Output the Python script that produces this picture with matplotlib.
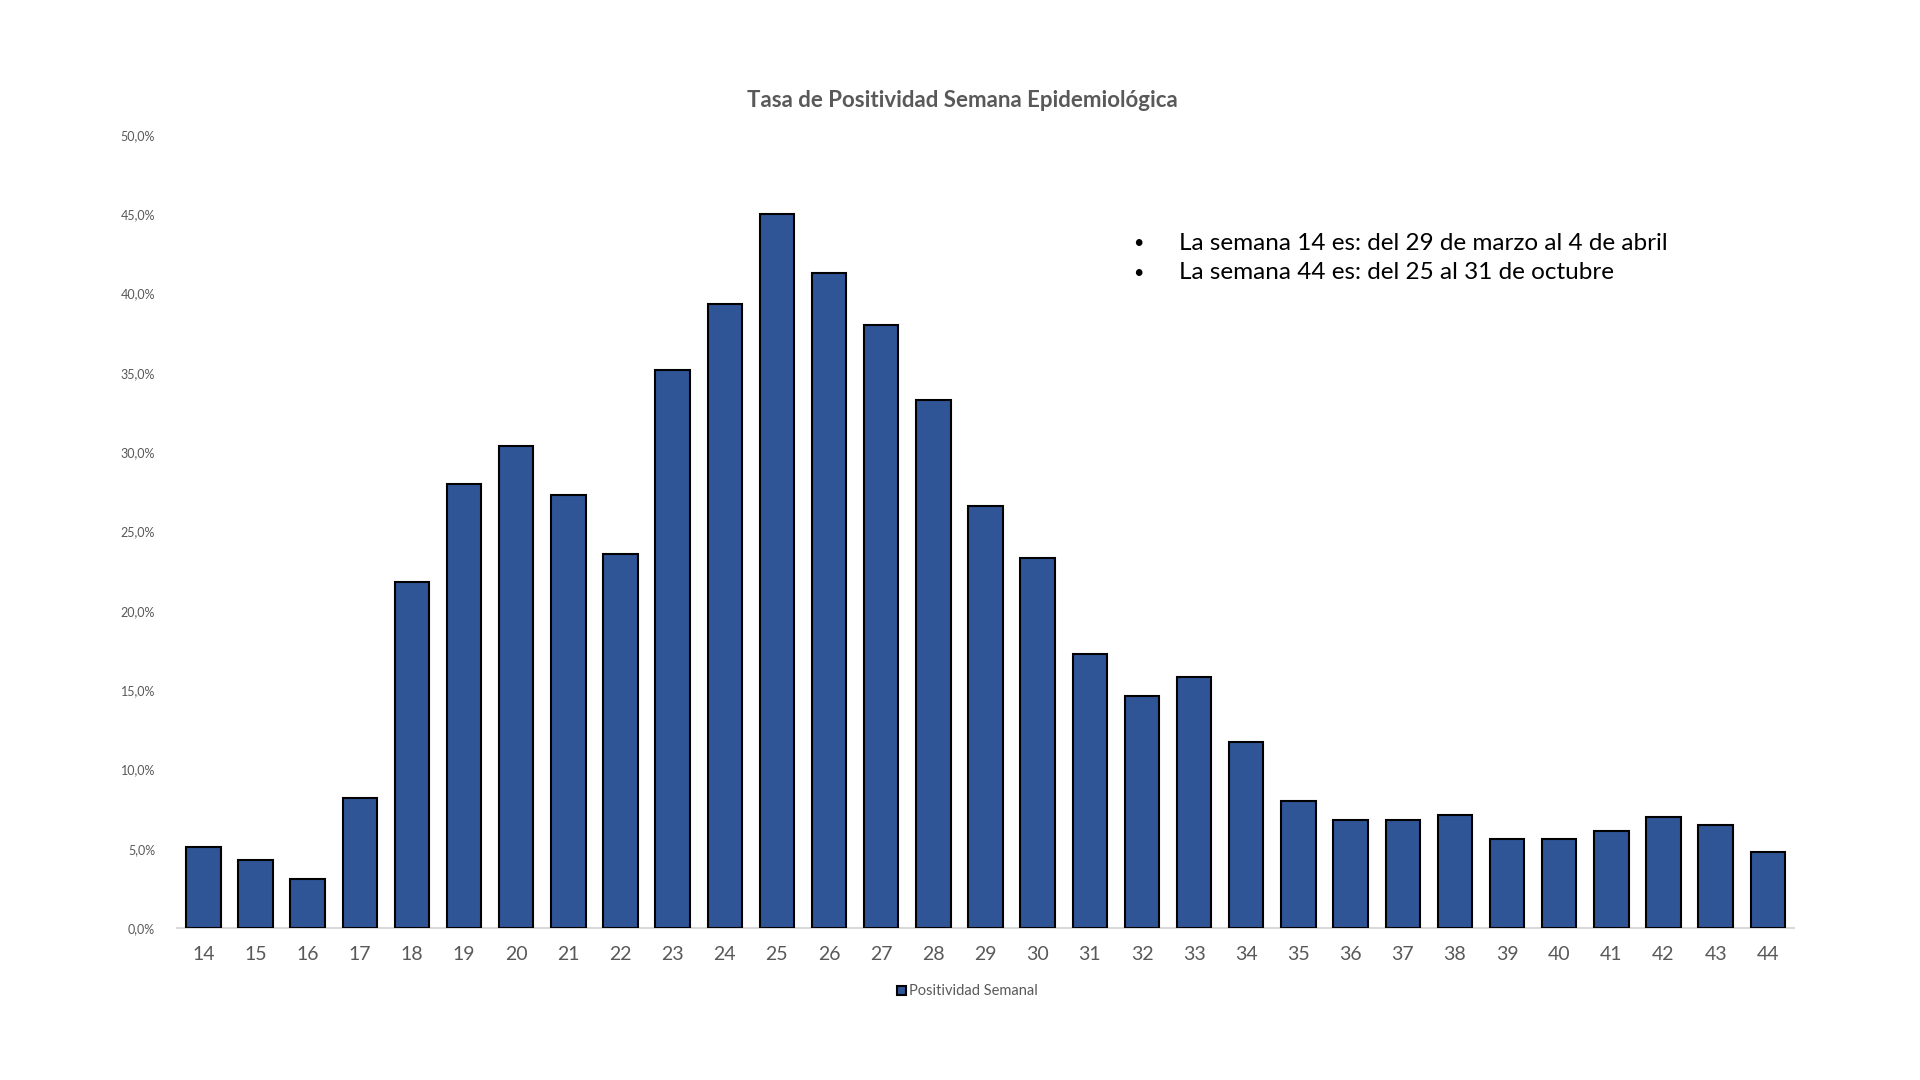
import numpy as np
import matplotlib
matplotlib.use("Agg")
import matplotlib.pyplot as plt
from matplotlib.ticker import FuncFormatter

# Weekly positivity (%), epidemiological weeks 14..44
semanas = list(range(14, 45))
positividad = [5.1, 4.3, 3.1, 8.2, 21.8, 28.0, 30.4, 27.3, 23.6, 35.2,
               39.3, 45.0, 41.3, 38.0, 33.3, 26.6, 23.3, 17.3, 14.6, 15.8,
               11.7, 8.0, 6.8, 6.8, 7.1, 5.6, 5.6, 6.1, 7.0, 6.5, 4.8]
notas = ["La semana 14 es: del 29 de marzo al 4 de abril",
         "La semana 44 es: del 25 al 31 de octubre"]

plt.rcParams['font.family'] = ['Lato', 'DejaVu Sans']
gris = "#595959"
azul = "#2F5597"

fig = plt.figure(figsize=(19.2, 10.8), dpi=100)
ax = fig.add_axes([0.0923, 0.1407, 0.8420, 0.7346])

x = np.arange(len(semanas))
ax.bar(x, positividad, width=0.66, color=azul, edgecolor="black",
       linewidth=1.5, label="Positividad Semanal", zorder=3)

ax.set_xlim(-0.5, len(semanas) - 0.5)
ax.set_ylim(0, 50)
ax.set_yticks(np.arange(0, 50.1, 5))
ax.yaxis.set_major_formatter(FuncFormatter(lambda v, p: f"{v:.1f}%".replace(".", ",")))
ax.set_xticks(x)
ax.set_xticklabels([str(s) for s in semanas])

for s in ["top", "right", "left"]:
    ax.spines[s].set_visible(False)
ax.spines["bottom"].set_color("#D9D9D9")
ax.spines["bottom"].set_linewidth(1.5)
ax.tick_params(axis="y", length=0, labelsize=9, labelcolor=gris, pad=16)
ax.tick_params(axis="x", length=0, labelsize=14, labelcolor=gris, pad=13)

fig.text(0.501, 0.907, "Tasa de Positividad Semana Epidemiológica",
         ha="center", va="center", fontsize=16, fontweight="bold", color=gris)

for i, nota in enumerate(notas):
    yy = 0.775 - i * 0.0275
    fig.text(0.593, yy, "•", ha="center", va="center", fontsize=13, color="black")
    fig.text(0.614, yy, nota, ha="left", va="center", fontsize=17.5, color="black")

fig.legend(loc="center", bbox_to_anchor=(0.504, 0.082), frameon=False,
           fontsize=10.5, labelcolor=gris, handlelength=0.6, handleheight=0.6,
           handletextpad=0.2)

fig.savefig("out.png", dpi=100, facecolor="white")
